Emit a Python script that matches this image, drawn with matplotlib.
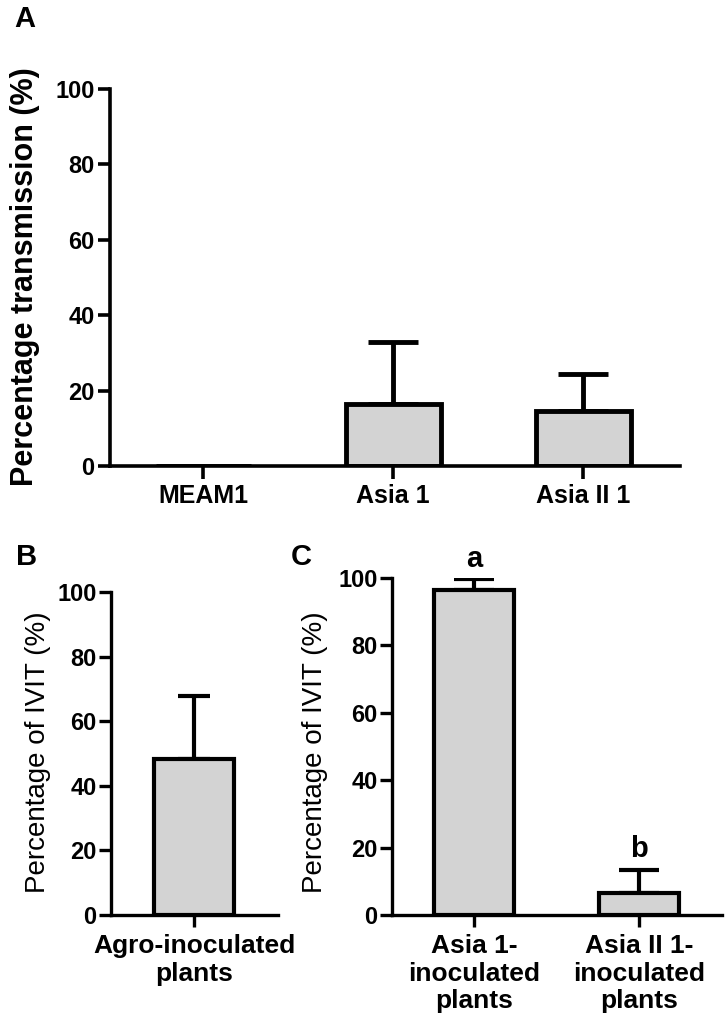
import matplotlib
matplotlib.use("Agg")
import matplotlib.pyplot as plt

plt.rcParams['font.family'] = ['Liberation Sans', 'DejaVu Sans']

# Panel A: transmission by cryptic species
a_groups = ['MEAM1', 'Asia 1', 'Asia II 1']
a_mean = [0.0, 16.5, 14.7]
a_err = [0.0, 16.5, 9.8]

# Panel B: agro-inoculated plants
b_groups = ['Agro-inoculated\nplants']
b_mean = [48.3]
b_err = [19.4]

# Panel C: virus-inoculated plants
c_groups = ['Asia 1-\ninoculated\nplants', 'Asia II 1-\ninoculated\nplants']
c_mean = [96.3, 6.5]
c_err = [3.3, 6.9]
c_letters = ['a', 'b']

W, H = 728, 1029
fig = plt.figure(figsize=(W / 100, H / 100), dpi=100)
bar_color = '#d3d3d3'


def px_axes(left, top, right, bottom):
    return fig.add_axes([left / W, 1 - bottom / H, (right - left) / W, (bottom - top) / H])


def style(ax, spine_lw, tick_len, tick_size):
    for s in ['top', 'right']:
        ax.spines[s].set_visible(False)
    for s in ['left', 'bottom']:
        ax.spines[s].set_linewidth(spine_lw)
    ax.tick_params(direction='out', length=tick_len, width=spine_lw, labelsize=tick_size, pad=2)
    ax.set_ylim(0, 100)
    ax.set_yticks([0, 20, 40, 60, 80, 100])
    for lab in ax.get_yticklabels() + ax.get_xticklabels():
        lab.set_fontweight('bold')


def draw_bars(ax, groups, mean, err, width, lw, cap):
    x = list(range(len(groups)))
    ax.bar(x, mean, width=width, color=bar_color, edgecolor='black', linewidth=lw, zorder=2)
    xs = [i for i in x if err[i] > 0]
    ax.errorbar(xs, [mean[i] for i in xs],
                yerr=[[0] * len(xs), [err[i] for i in xs]],
                fmt='none', ecolor='black', elinewidth=lw, capsize=cap, capthick=lw, zorder=1)
    ax.set_xticks(x)
    ax.set_xticklabels(groups)


# ---- Panel A ----
axA = px_axes(110, 89, 680, 466)
draw_bars(axA, a_groups, a_mean, a_err, 0.5, 3.5, 18)
axA.set_xlim(-0.49, 2.51)
style(axA, 2.6, 9, 17)
axA.tick_params(axis='x', labelsize=18, pad=4)
fig.text(25 / W, 1 - 277 / H, 'Percentage transmission (%)', rotation=90,
         ha='center', va='center', fontsize=22, fontweight='bold')
fig.text(14 / W, 1 - 5 / H, 'A', ha='left', va='top', fontsize=21, fontweight='bold')

# ---- Panel B ----
axB = px_axes(111, 592, 278, 915)
draw_bars(axB, b_groups, b_mean, b_err, 0.5, 3.0, 11.5)
axB.set_xlim(-0.52, 0.525)
style(axB, 2.4, 8.5, 17)
axB.tick_params(axis='x', labelsize=19, pad=5)
fig.text(38 / W, 1 - 752 / H, 'Percentage of IVIT (%)', rotation=90,
         ha='center', va='center', fontsize=20)
fig.text(16 / W, 1 - 543 / H, 'B', ha='left', va='top', fontsize=21, fontweight='bold')

# ---- Panel C ----
axC = px_axes(392, 578, 722, 915)
draw_bars(axC, c_groups, c_mean, c_err, 0.485, 3.0, 14.4)
axC.set_xlim(-0.497, 1.503)
style(axC, 2.4, 8.5, 17)
axC.tick_params(axis='x', labelsize=19, pad=5)
for i, letter in enumerate(c_letters):
    axC.text(i, c_mean[i] + c_err[i] + 3.8, letter, ha='center', va='baseline',
             fontsize=21, fontweight='bold')
fig.text(315 / W, 1 - 752 / H, 'Percentage of IVIT (%)', rotation=90,
         ha='center', va='center', fontsize=20)
fig.text(291 / W, 1 - 543 / H, 'C', ha='left', va='top', fontsize=21, fontweight='bold')

fig.savefig('out.png', dpi=100)
